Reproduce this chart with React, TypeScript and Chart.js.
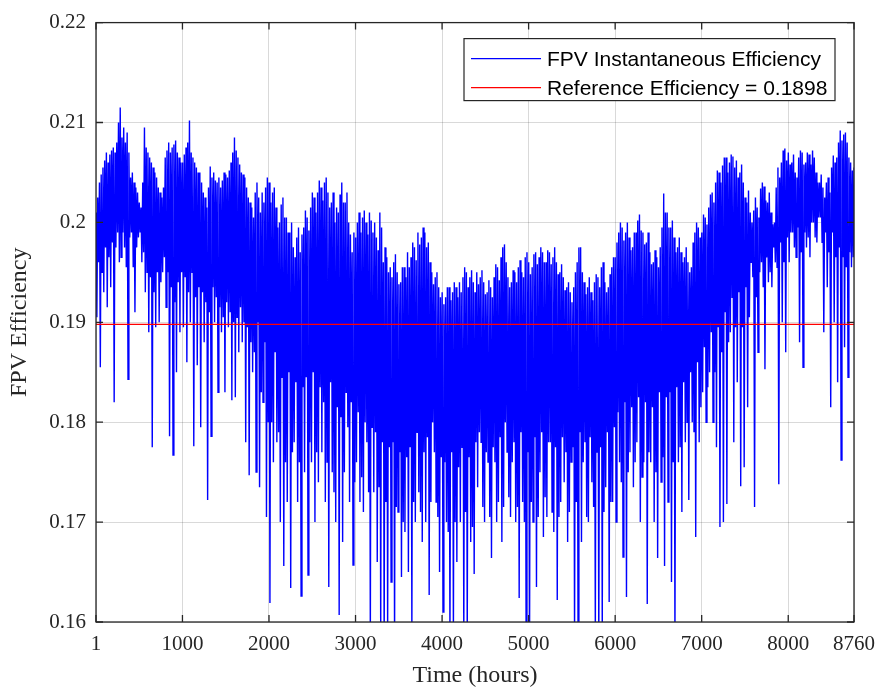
import React, { useEffect, useRef } from "react";
import { Chart, registerables } from "chart.js";

Chart.register(...registerables);

// ---- data -------------------------------------------------------------
const FIRST_HOUR = 1;
const LAST_HOUR = 8760;
const STEP_HOURS = 10; // one sampled reading every 10 hours
const REFERENCE_EFFICIENCY = 0.1898;

const X_TICKS = [1, 1000, 2000, 3000, 4000, 5000, 6000, 7000, 8000, 8760];
const Y_TICKS = [0.16, 0.17, 0.18, 0.19, 0.2, 0.21, 0.22];

const SERIES_LABEL = "FPV Instantaneous Efficiency";
const REF_LABEL = "Reference Efficiency = 0.1898";
const X_TITLE = "Time (hours)";
const Y_TITLE = "FPV Efficiency";

// FPV instantaneous efficiency, sampled every 10 h (alternating highs / lows)
const EFFICIENCY = [
  .2010,.1905,.2025,.1960, .2040,.1855,.2048,.1950, .2055,.1930,.2062,.1975, .2070,.1915,.2060,.1965, .2068,.1935,.2072,.1980,
  .2075,.1820,.2070,.1975, .2080,.1990,.2100,.1960, .2115,.1965,.2085,.1990, .2095,.1975,.2080,.1955, .2090,.1843,.2070,.1985,
  .2045,.1990,.2050,.1955, .2040,.1910,.2035,.1975, .2030,.1985,.2020,.1990, .2015,.1960,.2040,.1970, .2095,.1930,.2075,.1950,
  .2070,.1890,.2065,.1945, .2060,.1775,.2055,.1930, .2050,.1895,.2045,.1950, .2035,.1900,.2030,.1940, .2025,.1950,.2035,.1965,
  .2065,.1915,.2072,.1950, .2080,.1786,.2070,.1935, .2075,.1767,.2078,.1920, .2082,.1850,.2070,.1940, .2065,.1890,.2060,.1950,
  .2060,.1895,.2068,.1945, .2075,.1860,.2080,.1930, .2102,.1900,.2070,.1950, .2065,.1776,.2060,.1925, .2055,.1857,.2050,.1935,
  .2050,.1795,.2040,.1930, .2030,.1880,.2025,.1920, .2015,.1722,.2035,.1910, .2056,.1786,.2045,.1935, .2050,.1900,.2042,.1925,
  .2040,.1830,.2045,.1915, .2035,.1890,.2042,.1905, .2050,.1830,.2048,.1920, .2045,.1895,.2052,.1910, .2060,.1822,.2070,.1900,
  .2085,.1825,.2072,.1905, .2065,.1870,.2058,.1915, .2050,.1880,.2048,.1900, .2045,.1780,.2035,.1895, .2025,.1747,.2020,.1880,
  .2015,.1850,.2005,.1870, .2030,.1750,.2040,.1900, .2025,.1735,.2010,.1830, .2030,.1820,.2020,.1880, .2035,.1705,.2045,.1800,
  .2040,.1619,.2020,.1800, .2030,.1760,.2035,.1870, .2015,.1780,.1995,.1790, .2000,.1700,.2018,.1845, .2025,.1656,.2005,.1760,
  .2005,.1720,.1990,.1850, .1990,.1634,.2000,.1770, .1975,.1780,.1965,.1840, .1985,.1720,.1995,.1760, .1970,.1626,.1988,.1835,
  .1995,.1750,.2012,.1845, .2005,.1647,.1992,.1780, .2015,.1760,.2030,.1850, .2025,.1700,.2010,.1770, .2030,.1740,.2042,.1835,
  .2035,.1770,.2022,.1820, .2040,.1720,.2045,.1760, .2030,.1635,.2015,.1840, .2020,.1750,.2030,.1730, .2000,.1700,.2015,.1815,
  .2010,.1607,.2028,.1805, .2040,.1680,.2020,.1750, .2020,.1830,.2030,.1795, .2000,.1720,.1988,.1820, .1970,.1657,.1990,.1740,
  .1985,.1760,.2000,.1810, .2010,.1720,.1990,.1745, .2005,.1710,.2012,.1800, .2000,.1780,.1988,.1730, .2010,.1580,.2002,.1795,
  .1990,.1730,.2000,.1790, .1985,.1660,.1972,.1735, .2010,.1585,.1995,.1780, .1960,.1570,.1975,.1720, .1965,.1590,.1950,.1775,
  .1955,.1640,.1945,.1780, .1960,.1575,.1968,.1715, .1950,.1710,.1938,.1770, .1940,.1645,.1955,.1700, .1955,.1690,.1945,.1765,
  .1970,.1650,.1955,.1775, .1965,.1590,.1980,.1720, .1975,.1700,.1962,.1790, .1990,.1730,.1978,.1710, .1985,.1680,.1995,.1770,
  .1990,.1700,.1975,.1785, .1980,.1627,.1960,.1720, .1950,.1800,.1938,.1770, .1945,.1720,.1950,.1705, .1935,.1650,.1925,.1765,
  .1930,.1610,.1918,.1760, .1925,.1700,.1935,.1690, .1935,.1580,.1922,.1770, .1930,.1590,.1940,.1700, .1935,.1660,.1925,.1755,
  .1940,.1700,.1930,.1775, .1945,.1585,.1955,.1710, .1950,.1580,.1935,.1765, .1945,.1680,.1952,.1695, .1940,.1648,.1930,.1780,
  .1950,.1735,.1938,.1790, .1945,.1780,.1952,.1715, .1940,.1700,.1928,.1770, .1930,.1760,.1942,.1705, .1935,.1664,.1925,.1775,
  .1945,.1760,.1958,.1700, .1955,.1720,.1942,.1785, .1965,.1680,.1975,.1715, .1978,.1800,.1960,.1770, .1945,.1725,.1935,.1705,
  .1940,.1760,.1952,.1780, .1950,.1700,.1940,.1715, .1955,.1624,.1962,.1790, .1950,.1720,.1945,.1700, .1965,.1590,.1970,.1770,
  .1960,.1580,.1948,.1720, .1955,.1700,.1968,.1785, .1970,.1635,.1958,.1705, .1965,.1750,.1975,.1790, .1970,.1685,.1960,.1725,
  .1960,.1705,.1972,.1780, .1970,.1780,.1958,.1710, .1965,.1690,.1975,.1775, .1960,.1622,.1948,.1705, .1950,.1720,.1958,.1785,
  .1945,.1740,.1932,.1770, .1935,.1680,.1940,.1710, .1930,.1760,.1920,.1775, .1935,.1580,.1950,.1720, .1960,.1600,.1975,.1790,
  .1975,.1680,.1950,.1760, .1940,.1780,.1928,.1705, .1935,.1700,.1945,.1785, .1930,.1740,.1922,.1715, .1940,.1585,.1948,.1770,
  .1945,.1575,.1935,.1775, .1955,.1590,.1960,.1710, .1940,.1735,.1930,.1790, .1935,.1620,.1948,.1720, .1955,.1720,.1965,.1795,
  .1965,.1700,.1980,.1810, .1990,.1760,.2000,.1740, .1995,.1665,.1982,.1820, .1990,.1625,.2000,.1750, .1985,.1770,.1972,.1815,
  .1975,.1735,.1990,.1760, .1990,.1780,.2002,.1825, .2008,.1700,.1992,.1745, .1990,.1760,.1978,.1820, .1980,.1618,.1990,.1770,
  .1970,.1760,.1958,.1815, .1960,.1700,.1972,.1750, .1965,.1664,.1955,.1830, .1975,.1740,.1995,.1765, .2029,.1656,.2010,.1825,
  .2010,.1720,.1995,.1830, .1995,.1640,.2002,.1760, .1985,.1580,.1970,.1835, .1975,.1760,.1985,.1775, .1970,.1710,.1960,.1840,
  .1965,.1780,.1975,.1800, .1960,.1722,.1950,.1850, .1955,.1800,.1980,.1790, .1990,.1685,.2000,.1860, .1995,.1780,.1985,.1815,
  .1990,.1830,.2008,.1875, .2005,.1800,.1998,.1835, .2015,.1850,.2028,.1890, .2030,.1800,.2020,.1850, .2040,.1775,.2052,.1895,
  .2050,.1695,.2040,.1870, .2057,.1700,.2065,.1910, .2065,.1718,.2050,.1880, .2060,.1890,.2068,.1925, .2066,.1780,.2055,.1895,
  .2062,.1840,.2045,.1930, .2050,.1736,.2058,.1895, .2040,.1755,.2025,.1935, .2020,.1815,.2032,.1905, .2010,.1960,.2000,.1945,
  .2012,.1715,.2025,.1925, .2015,.1870,.2005,.1950, .2034,.1960,.2040,.1935, .2036,.1853,.2022,.1965, .2020,.1940,.2030,.1950,
  .2010,.1935,.1998,.1975, .2000,.1960,.2035,.1955, .2055,.1738,.2045,.1980, .2060,.1900,.2072,.1960, .2074,.1870,.2062,.1985,
  .2070,.1960,.2058,.1990, .2060,.1990,.2068,.1975, .2050,.1965,.2045,.1995, .2065,.1880,.2072,.1970, .2070,.1855,.2058,.1990,
  .2060,.1975,.2070,.1985, .2068,.1965,.2058,.2000, .2072,.2000,.2065,.1985, .2050,.1980,.2040,.2005, .2040,.2005,.2048,.1980,
  .2035,.1890,.2025,.1990, .2040,.1935,.2045,.1970, .2030,.1815,.2055,.1990, .2067,.1900,.2060,.1965, .2065,.1840,.2080,.1975,
  .2092,.1762,.2082,.1965, .2088,.1875,.2090,.1955, .2080,.1845,.2065,.1970, .2060,.1955,.2052,.1965, .2055,
];

const HOURS = EFFICIENCY.map((_, i) => FIRST_HOUR + i * STEP_HOURS);

// ---- styling ----------------------------------------------------------
const AXIS_COLOR = "#262626";
const SERIF = '"Liberation Serif", "Times New Roman", serif';
const SANS = '"Liberation Sans", Arial, sans-serif';

export default function App() {
  const canvasRef = useRef<HTMLCanvasElement | null>(null);

  useEffect(() => {
    const canvas = canvasRef.current;
    if (!canvas) return;

    const framePlugin = {
      id: "matlabFrame",
      afterDraw(chart: any) {
        const { ctx, chartArea } = chart;
        const { left, right, top, bottom } = chartArea;
        const xs = chart.scales.x;
        const ys = chart.scales.y;
        ctx.save();
        ctx.strokeStyle = AXIS_COLOR;
        ctx.lineWidth = 1.3;
        ctx.strokeRect(left, top, right - left, bottom - top);
        const tl = 7;
        ctx.beginPath();
        X_TICKS.forEach((v) => {
          const px = xs.getPixelForValue(v);
          ctx.moveTo(px, bottom);
          ctx.lineTo(px, bottom - tl);
          ctx.moveTo(px, top);
          ctx.lineTo(px, top + tl);
        });
        Y_TICKS.forEach((v) => {
          const py = ys.getPixelForValue(v);
          ctx.moveTo(left, py);
          ctx.lineTo(left + tl, py);
          ctx.moveTo(right, py);
          ctx.lineTo(right - tl, py);
        });
        ctx.stroke();

        // legend box (inside plot, top-right)
        const bw = 371;
        const bh = 62;
        const bx = right - 19 - bw;
        const by = top + 16;
        ctx.fillStyle = "#ffffff";
        ctx.fillRect(bx, by, bw, bh);
        ctx.lineWidth = 1.2;
        ctx.strokeStyle = AXIS_COLOR;
        ctx.strokeRect(bx, by, bw, bh);

        const rows = [
          { label: SERIES_LABEL, color: "#0000ff", y: by + 20 },
          { label: REF_LABEL, color: "#ff0000", y: by + 49 },
        ];
        ctx.font = `21px ${SANS}`;
        ctx.textBaseline = "middle";
        ctx.textAlign = "left";
        rows.forEach((r) => {
          ctx.strokeStyle = r.color;
          ctx.lineWidth = 1.4;
          ctx.beginPath();
          ctx.moveTo(bx + 7, r.y);
          ctx.lineTo(bx + 77, r.y);
          ctx.stroke();
          ctx.fillStyle = "#000000";
          ctx.fillText(r.label, bx + 83, r.y + 2);
        });
        ctx.restore();
      },
    };

    const tickFont = { family: SERIF, size: 21 };
    const titleFont = { family: SERIF, size: 24 };

    const chart = new Chart(canvas, {
      type: "line",
      data: {
        datasets: [
          {
            label: REF_LABEL,
            data: [
              { x: FIRST_HOUR, y: REFERENCE_EFFICIENCY },
              { x: LAST_HOUR, y: REFERENCE_EFFICIENCY },
            ],
            borderColor: "#ff0000",
            borderWidth: 1.2,
            pointRadius: 0,
            tension: 0,
          },
          {
            label: SERIES_LABEL,
            data: HOURS.map((h, i) => ({ x: h, y: EFFICIENCY[i] })),
            borderColor: "#0000ff",
            borderWidth: 1.4,
            pointRadius: 0,
            tension: 0,
          },
        ],
      },
      options: {
        responsive: false,
        animation: false,
        devicePixelRatio: 1,
        layout: { padding: { left: 0, top: 22, right: 29, bottom: 0 } },
        plugins: {
          legend: { display: false },
          tooltip: { enabled: false },
        },
        scales: {
          x: {
            type: "linear",
            min: FIRST_HOUR,
            max: LAST_HOUR,
            afterBuildTicks: (s: any) => {
              s.ticks = X_TICKS.map((v) => ({ value: v }));
            },
            afterFit: (s: any) => {
              s.height = 69;
            },
            grid: { color: "rgba(0,0,0,0.15)", lineWidth: 1, drawTicks: false },
            border: { display: false },
            ticks: {
              font: tickFont,
              color: AXIS_COLOR,
              padding: 10,
              maxRotation: 0,
              autoSkip: false,
              callback: (v: any) => String(v),
            },
            title: {
              display: true,
              text: X_TITLE,
              font: titleFont,
              color: AXIS_COLOR,
              padding: { top: 0, bottom: 1 },
            },
          },
          y: {
            type: "linear",
            min: 0.16,
            max: 0.22,
            afterBuildTicks: (s: any) => {
              s.ticks = Y_TICKS.map((v) => ({ value: v }));
            },
            afterFit: (s: any) => {
              s.width = 96;
            },
            grid: { color: "rgba(0,0,0,0.15)", lineWidth: 1, drawTicks: false },
            border: { display: false },
            ticks: {
              font: tickFont,
              color: AXIS_COLOR,
              padding: 10,
              callback: (v: any) => String(Number(Number(v).toFixed(2))),
            },
            title: {
              display: true,
              text: Y_TITLE,
              font: titleFont,
              color: AXIS_COLOR,
              padding: { top: 5, bottom: 0 },
            },
          },
        },
      },
      plugins: [framePlugin],
    } as any);

    return () => chart.destroy();
  }, []);

  return (
    <div
      style={{
        position: "fixed",
        left: 0,
        top: 0,
        width: 885,
        height: 691,
        background: "#ffffff",
      }}
    >
      <canvas
        ref={canvasRef}
        width={885}
        height={691}
        style={{ display: "block", width: 885, height: 691 }}
      />
    </div>
  );
}
